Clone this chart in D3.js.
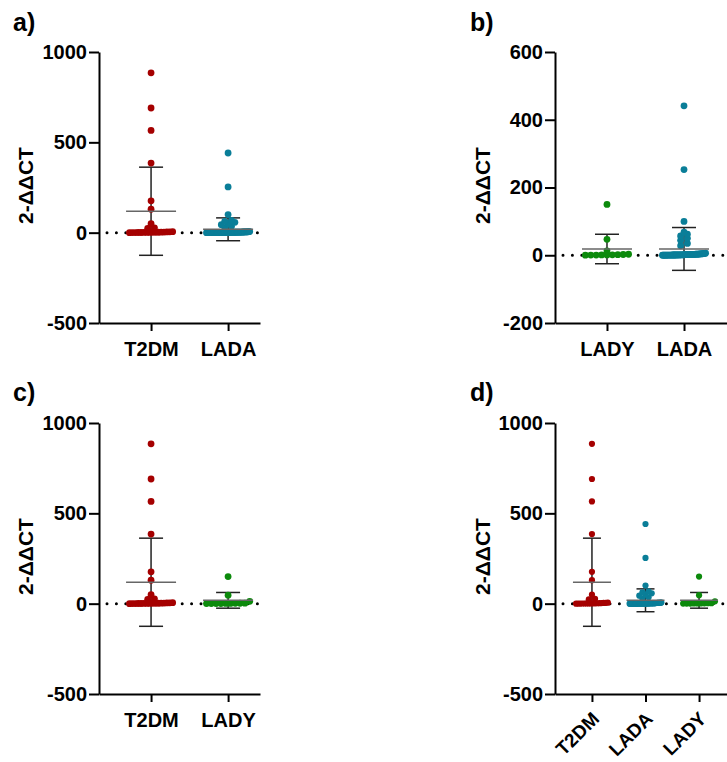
<!DOCTYPE html>
<html>
<head>
<meta charset="utf-8">
<script src="https://cdn.jsdelivr.net/npm/d3@7"></script>
<style>
  html, body { margin: 0; padding: 0; background: #fff; }
  svg { display: block; }
  text { font-family: "Liberation Sans", Arial, sans-serif; font-weight: bold; fill: #000; }
</style>
</head>
<body>
<svg id="chart" width="727" height="762"></svg>
<script>
// Relative expression (2^-ΔΔCT) per patient group
const t2dm = [885, 690, 566, 385, 176, 130, 50, 27, 24,
  0.4, 0.9, 1.3, 2.1, 0.6, 3.2, 1.8, 0.2, 4.5, 2.7, 1.1, 0.8, 5.6, 3.9, 1.5, 2.4];
const lada = [441, 253, 100, 68, 62, 57, 50, 44, 35, 28,
  0.3, 1.2, 0.7, 2.5, 0.1, 3.4, 1.9, 0.5, 4.2, 2.2,
  0.9, 1.6, 5.1, 0.4, 2.8, 1.1, 0.2, 3.7, 1.4, 0.6,
  2.0, 4.8, 0.8, 1.3, 3.1, 0.3, 2.6, 1.7, 0.5, 5.8,
  1.0, 2.3, 0.7, 3.9, 1.5, 0.2, 2.9, 4.4, 0.9, 1.8,
  0.4, 3.3, 2.1, 0.6, 1.2, 6.2, 0.8, 2.7, 1.4, 0.3,
  3.6, 1.9, 0.5, 2.4, 1.0, 4.0, 0.7];
const lady = [150, 47, 13, 0.6, 1.4, 0.3, 2.2, 0.9, 1.8, 0.4, 2.9, 1.1];

const groupValues = { T2DM: t2dm, LADA: lada, LADY: lady };
const groupColors = { T2DM: "#a50000", LADA: "#0a7e98", LADY: "#0c8a0c" };

// Panels: label, groups on the x axis, y range and its tick labels
const panelLabels = ["a)", "b)", "c)", "d)"];
const panelGroups = [["T2DM", "LADA"], ["LADY", "LADA"], ["T2DM", "LADY"], ["T2DM", "LADA", "LADY"]];
const yDomains = [[-500, 1000], [-200, 600], [-500, 1000], [-500, 1000]];
const yTickValues = [[-500, 0, 500, 1000], [-200, 0, 200, 400, 600], [-500, 0, 500, 1000], [-500, 0, 500, 1000]];
const yTitle = "2-ΔΔCT";

// Geometry of each panel
const layout = [
  { left: 99, right: 260, top: 52, bottom: 323, pad: 0.545, align: 0.62, r: 3.4, half: 25, cap: 12, labelX: 13, labelY: 31, titleX: 33, rotate: false },
  { left: 555, right: 736, top: 52, bottom: 323, pad: 0.675, align: 0.5, r: 3.4, half: 25, cap: 12, labelX: 470, labelY: 31, titleX: 490, rotate: false },
  { left: 99, right: 260, top: 423, bottom: 694, pad: 0.545, align: 0.62, r: 3.4, half: 25, cap: 12, labelX: 13, labelY: 401, titleX: 33, rotate: false },
  { left: 555, right: 736, top: 423, bottom: 694, pad: 0.69, align: 0.5, r: 3.1, half: 19, cap: 9, labelX: 470, labelY: 401, titleX: 490, rotate: true }
];

const svg = d3.select("#chart");

// Spread nearly equal values sideways in rows, Prism-style
function swarm(vals, y, cx, r, half) {
  const pts = vals.map(v => ({ v, py: y(v) })).sort((a, b) => a.v - b.v);
  const rows = [];
  let cur = null;
  for (const p of pts) {
    if (!cur || Math.abs(p.py - cur[0].py) > 2.5) { cur = [p]; rows.push(cur); }
    else cur.push(p);
  }
  rows.forEach(row => {
    const n = row.length;
    const span = 2 * (half - r);
    const s = n > 1 ? Math.min(2 * r, span / (n - 1)) : 0;
    row.forEach((p, i) => { p.px = cx + (i - (n - 1) / 2) * s; });
  });
  return pts;
}

panelLabels.forEach((lab, k) => {
  const L = layout[k];
  const g = svg.append("g");

  const y = d3.scaleLinear().domain(yDomains[k]).range([L.bottom, L.top]);
  const x = d3.scalePoint().domain(panelGroups[k]).range([L.left, L.right]).padding(L.pad).align(L.align);

  // panel letter
  g.append("text").attr("x", L.labelX).attr("y", L.labelY)
    .attr("font-size", 25).text(lab);

  // y axis title
  g.append("text")
    .attr("transform", `translate(${L.titleX},${(L.top + L.bottom) / 2 - 2}) rotate(-90)`)
    .attr("text-anchor", "middle").attr("font-size", 21).text(yTitle);

  // dotted zero line
  g.append("line")
    .attr("x1", L.left + 8).attr("x2", L.right)
    .attr("y1", y(0)).attr("y2", y(0))
    .attr("stroke", "#000").attr("stroke-width", 3)
    .attr("stroke-linecap", "round").attr("stroke-dasharray", "0,9.4");

  // axes
  const yAxis = g.append("g").attr("transform", `translate(${L.left},0)`)
    .call(d3.axisLeft(y).tickValues(yTickValues[k]).tickFormat(d => String(d))
      .tickSize(10).tickSizeOuter(0).tickPadding(2));
  const xAxis = g.append("g").attr("transform", `translate(0,${L.bottom})`)
    .call(d3.axisBottom(x).tickSize(8).tickSizeOuter(0).tickPadding(L.rotate ? 0 : 11));
  [yAxis, xAxis].forEach(a => {
    a.attr("font-size", 20).attr("font-family", "Liberation Sans, Arial, sans-serif");
    a.select(".domain").attr("stroke", "#000").attr("stroke-width", 2);
    a.selectAll(".tick line").attr("stroke", "#000").attr("stroke-width", 2);
    a.selectAll("text").attr("font-size", 20).attr("font-weight", "bold").attr("fill", "#000");
  });
  if (L.rotate) {
    xAxis.selectAll(".tick text")
      .attr("text-anchor", "end").attr("x", 0).attr("y", 0).attr("dy", 0)
      .attr("font-size", 19)
      .attr("transform", "translate(8,26) rotate(-45)");
  }

  panelGroups[k].forEach(name => {
    const vals = groupValues[name];
    const cx = x(name);
    const m = d3.mean(vals);
    const sd = d3.deviation(vals);

    // SD whisker and caps
    g.append("line").attr("x1", cx).attr("x2", cx).attr("y1", y(m - sd)).attr("y2", y(m + sd))
      .attr("stroke", "#222").attr("stroke-width", 1.5);
    [m - sd, m + sd].forEach(v => {
      g.append("line").attr("x1", cx - L.cap).attr("x2", cx + L.cap).attr("y1", y(v)).attr("y2", y(v))
        .attr("stroke", "#222").attr("stroke-width", 1.5);
    });

    // individual values
    g.append("g").selectAll("circle").data(swarm(vals, y, cx, L.r, L.half)).join("circle")
      .attr("cx", d => d.px).attr("cy", d => d.py).attr("r", L.r)
      .attr("fill", groupColors[name]);

    // mean line
    g.append("line").attr("x1", cx - L.half).attr("x2", cx + L.half).attr("y1", y(m)).attr("y2", y(m))
      .attr("stroke", "#666").attr("stroke-width", 1.5);
  });
});
</script>
</body>
</html>
